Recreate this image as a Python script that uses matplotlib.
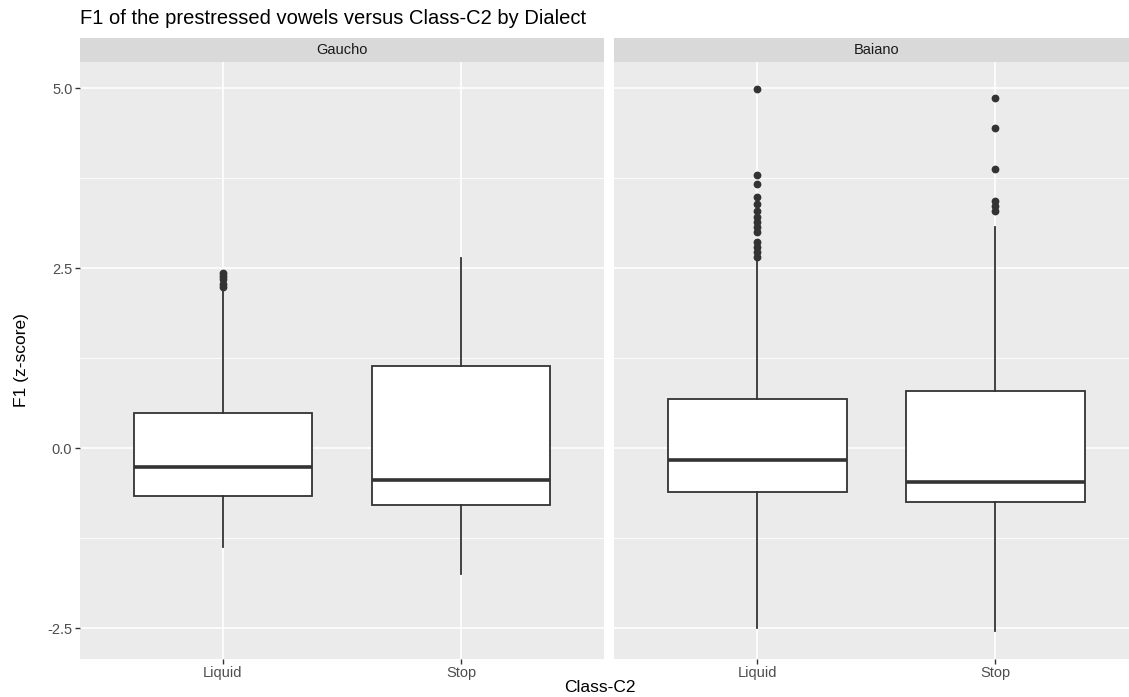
import matplotlib.pyplot as plt

# categories and panels
dialects = ["Gaucho", "Baiano"]
classes = ["Liquid", "Stop"]

# box statistics (z-score), per dialect: [Liquid, Stop]
q1 = {"Gaucho": [-0.66, -0.79], "Baiano": [-0.61, -0.74]}
med = {"Gaucho": [-0.26, -0.44], "Baiano": [-0.16, -0.47]}
q3 = {"Gaucho": [0.49, 1.15], "Baiano": [0.68, 0.80]}
whislo = {"Gaucho": [-1.37, -1.75], "Baiano": [-2.50, -2.53]}
whishi = {"Gaucho": [2.20, 2.64], "Baiano": [2.63, 3.07]}
fliers = {
    "Gaucho": [[2.24, 2.28, 2.35, 2.39, 2.44], []],
    "Baiano": [[2.66, 2.73, 2.80, 2.87, 3.01, 3.08, 3.15, 3.22, 3.30,
                3.40, 3.49, 3.67, 3.79, 4.99],
               [3.29, 3.36, 3.43, 3.88, 4.45, 4.87]],
}

yticks = [-2.5, 0.0, 2.5, 5.0]
yminor = [-1.25, 1.25, 3.75]

plt.rcParams['font.family'] = ['Liberation Sans', 'DejaVu Sans']

W, H = 1129, 697
fig = plt.figure(figsize=(W / 100, H / 100), dpi=100)

panel_w = 524
lefts = [80, 614.3]
top, bottom = 61.7, 658.7
strip_h = 24

line_col = "#333333"
for i, d in enumerate(dialects):
    ax = fig.add_axes([lefts[i] / W, 1 - bottom / H, panel_w / W, (bottom - top) / H])
    ax.set_facecolor("#EBEBEB")
    for s in ax.spines.values():
        s.set_visible(False)
    ax.set_xlim(0.4, 2.6)
    ax.set_ylim(-2.92, 5.37)
    for y in yminor:
        ax.axhline(y, color="white", lw=0.6, zorder=0)
    for y in yticks:
        ax.axhline(y, color="white", lw=1.2, zorder=0)
    for x in [1, 2]:
        ax.axvline(x, color="white", lw=1.2, zorder=0)

    stats = []
    for j, c in enumerate(classes):
        stats.append(dict(q1=q1[d][j], med=med[d][j], q3=q3[d][j],
                          whislo=whislo[d][j], whishi=whishi[d][j],
                          fliers=fliers[d][j], label=c))
    ax.bxp(stats, positions=[1, 2], widths=0.75, patch_artist=True,
           showcaps=False,
           boxprops=dict(facecolor="white", edgecolor=line_col, lw=1.3),
           medianprops=dict(color=line_col, lw=2.6, solid_capstyle="butt"),
           whiskerprops=dict(color=line_col, lw=1.3),
           flierprops=dict(marker="o", markerfacecolor=line_col,
                           markeredgecolor=line_col, markersize=4.6),
           zorder=2)

    ax.set_xticks([1, 2])
    ax.set_xticklabels(classes)
    ax.tick_params(axis="x", length=3.5, width=1, color=line_col,
                   labelsize=10.5, labelcolor="#4D4D4D", pad=2)
    ax.set_yticks(yticks)
    if i == 0:
        ax.set_yticklabels([f"{v:.1f}" for v in yticks])
        ax.tick_params(axis="y", length=3.5, width=1, color=line_col,
                       labelsize=10.5, labelcolor="#4D4D4D", pad=2)
    else:
        ax.tick_params(axis="y", length=0, labelleft=False)

    # facet strip
    sax = fig.add_axes([lefts[i] / W, 1 - top / H, panel_w / W, strip_h / H])
    sax.set_facecolor("#D9D9D9")
    sax.set_xticks([])
    sax.set_yticks([])
    for s in sax.spines.values():
        s.set_visible(False)
    sax.text(0.5, 0.5, d, ha="center", va="center", fontsize=10.5,
             color="#1A1A1A", transform=sax.transAxes)

fig.text(80 / W, 1 - 19 / H, "F1 of the prestressed vowels versus Class-C2 by Dialect",
         fontsize=14.5, ha="left", va="center", color="black")
fig.text(600 / W, 1 - 688 / H, "Class-C2", fontsize=12.5, ha="center", va="center",
         color="black")
fig.text(22 / W, 1 - 360 / H, "F1 (z-score)", fontsize=12.5, ha="center", va="center",
         rotation=90, color="black")

fig.savefig("out.png", dpi=100)
